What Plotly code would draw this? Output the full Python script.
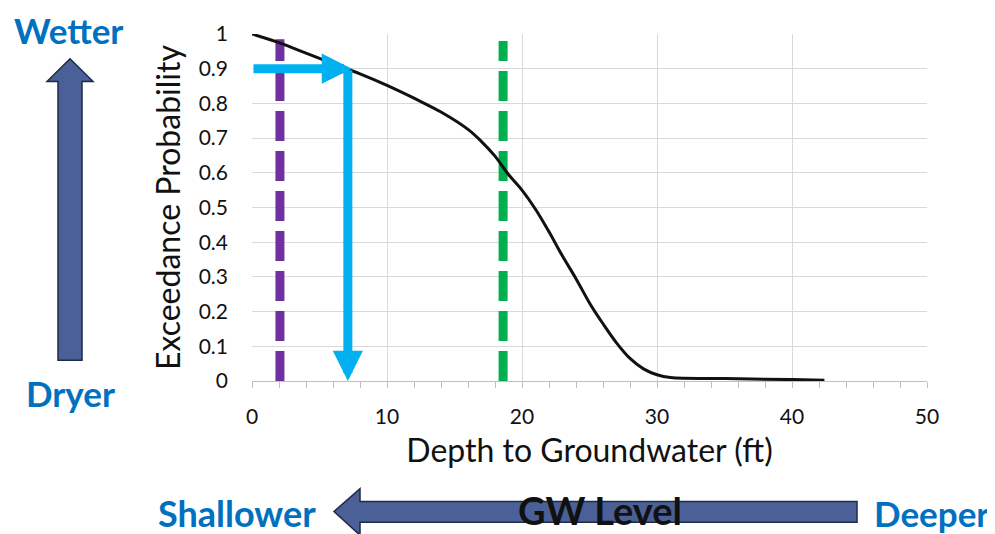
import plotly.graph_objects as go

# ---- data ----
depth_ft = [0, 2, 4, 6, 8, 10, 12, 14, 16, 17, 18, 19, 20, 21, 22, 23, 24, 25, 26, 27, 28, 29, 30, 31, 35, 40, 42.4]
exceed_prob = [1.0, 0.975, 0.945, 0.915, 0.885, 0.852, 0.815, 0.775, 0.725, 0.69, 0.648, 0.595, 0.55, 0.495,
               0.43, 0.36, 0.295, 0.225, 0.165, 0.11, 0.065, 0.035, 0.018, 0.01, 0.007, 0.004, 0.002]

purple_depth = 2.07
purple_top = 0.985
green_depth = 18.6
green_top = 0.98
target_prob = 0.9
target_depth_h = 7.4   # tip of horizontal arrow
target_depth_v = 7.1   # vertical arrow position

x_ticks = [0, 10, 20, 30, 40, 50]
y_ticks = [0, 0.1, 0.2, 0.3, 0.4, 0.5, 0.6, 0.7, 0.8, 0.9, 1]
y_tick_labels = ["0", "0.1", "0.2", "0.3", "0.4", "0.5", "0.6", "0.7", "0.8", "0.9", "1"]

# page has an 8px body margin: size the figure to the visible area
W, H = 987, 526
FONT = "Lato"
BLUE_TXT = "#0070C0"
ARROW_FILL = "#4A6096"
ARROW_EDGE = "#1E2A48"
CYAN = "#00B0F0"

fig = go.Figure()

fig.add_trace(go.Scatter(x=[purple_depth, purple_depth], y=[0, purple_top], mode="lines",
                         line=dict(color="#7030A0", width=9, dash="30px,10px"), hoverinfo="skip"))
fig.add_trace(go.Scatter(x=[green_depth, green_depth], y=[0, green_top], mode="lines",
                         line=dict(color="#00B050", width=9, dash="30px,10px"), hoverinfo="skip"))
fig.add_trace(go.Scatter(x=depth_ft, y=exceed_prob, mode="lines",
                         line=dict(color="#111111", width=3, shape="spline", smoothing=1.0)))

# cyan arrows (data coordinates)
fig.add_annotation(x=target_depth_h, y=target_prob, ax=0, ay=target_prob, xref="x", yref="y",
                   axref="x", ayref="y", showarrow=True, arrowhead=2, arrowsize=0.67,
                   arrowwidth=9, arrowcolor=CYAN, text="")
fig.add_annotation(x=target_depth_v, y=0, ax=target_depth_v, ay=target_prob, xref="x", yref="y",
                   axref="x", ayref="y", showarrow=True, arrowhead=2, arrowsize=0.67,
                   arrowwidth=9, arrowcolor=CYAN, text="")

# decorative block arrows (screen pixel positions -> paper coords)
def px(x):
    return (x - 252) / (927 - 252)

def py(y):
    return (381 - y) / (381 - 30)

up_pts = [(58, 360), (58, 78), (47, 78), (70, 55), (93, 78), (82, 78), (82, 360)]
path_up = "M " + " L ".join(f"{px(a)},{py(b)}" for a, b in up_pts) + " Z"
fig.add_shape(type="path", path=path_up, xref="paper", yref="paper",
              fillcolor=ARROW_FILL, line=dict(color=ARROW_EDGE, width=1.5), layer="above")

left_pts = [(857, 503), (360, 503), (360, 490), (334, 513), (360, 537), (360, 524), (857, 524)]
path_left = "M " + " L ".join(f"{px(a)},{py(b)}" for a, b in left_pts) + " Z"
fig.add_shape(type="path", path=path_left, xref="paper", yref="paper",
              fillcolor=ARROW_FILL, line=dict(color=ARROW_EDGE, width=1.5), layer="above")

def label(text, x, y, size, color, bold=True):
    fig.add_annotation(x=px(x), y=py(y), xref="paper", yref="paper", text=f"<b>{text}</b>" if bold else text,
                       showarrow=False, font=dict(family=FONT, size=size, color=color),
                       xanchor="center", yanchor="middle")

label("Wetter", 69, 26, 35, BLUE_TXT)
label("Dryer", 70, 393, 35, BLUE_TXT)
label("Shallower", 237, 515, 36, BLUE_TXT)
label("Deeper", 932, 515, 35, BLUE_TXT)
label("GW Level", 600, 511, 38, "#111111")

fig.update_layout(
    width=W, height=H,
    margin=dict(l=244, r=68, t=22, b=153),
    paper_bgcolor="white", plot_bgcolor="white",
    showlegend=False,
    font=dict(family=FONT, color="#111111"),
    xaxis=dict(range=[0, 50], tickvals=x_ticks, showgrid=True, gridcolor="#D9D9D9", gridwidth=1,
               showline=True, linecolor="#BFBFBF", linewidth=1, zeroline=False,
               ticks="outside", ticklen=6, tickcolor="#BFBFBF",
               minor=dict(dtick=2, ticks="outside", ticklen=6, tickcolor="#BFBFBF", showgrid=False),
               tickfont=dict(size=21), ticklabelstandoff=11,
               title=dict(text="Depth to Groundwater (ft)", font=dict(size=32), standoff=12)),
    yaxis=dict(range=[0, 1], tickvals=y_ticks, ticktext=y_tick_labels, showgrid=True,
               gridcolor="#D9D9D9", gridwidth=1, zeroline=False, showline=False,
               tickfont=dict(size=21), ticklabelstandoff=23,
               title=dict(text="Exceedance Probability", font=dict(size=32), standoff=8)),
)

fig.write_html("out.html")
